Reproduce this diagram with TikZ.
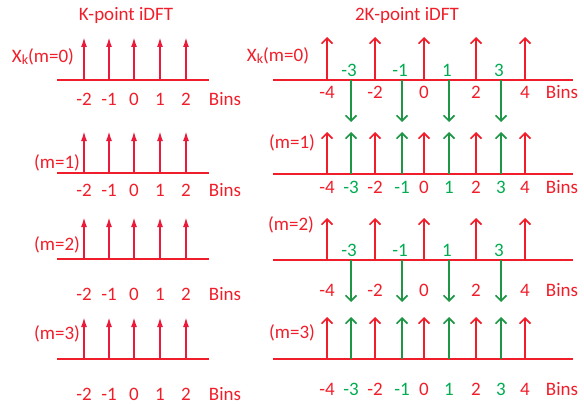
\documentclass[tikz,border=0pt]{standalone}
\usepackage{fontspec}
\setmainfont{Carlito}
\usetikzlibrary{arrows.meta}
\definecolor{binred}{RGB}{240,30,42}
\definecolor{stemred}{RGB}{234,26,58}
\definecolor{stemgreen}{RGB}{30,150,70}
\definecolor{bingreen}{RGB}{0,172,80}
% small lowered index letter
\newcommand{\binidx}[1]{\raisebox{-2pt}{\fontsize{14}{14}\selectfont #1}}

\begin{document}
\begin{tikzpicture}[x=1pt,y=-1pt,
  font=\fontsize{19}{22}\selectfont,
  axis/.style={binred, line width=1.8pt},
  lstem/.style={stemred, line width=1.8pt, -{Latex[length=10pt,width=6pt]}},
  rstem/.style={binred, line width=1.6pt, -{Straight Barb[length=5.5pt,width=11pt,line width=1.6pt]}},
  gstem/.style={stemgreen, line width=1.6pt, -{Straight Barb[length=5.5pt,width=11pt,line width=1.6pt]}},
  rlbl/.style={text=binred, inner sep=0pt, anchor=center},
  glbl/.style={text=bingreen, inner sep=0pt, anchor=center},
  title/.style={text=binred, inner sep=0pt}]
\useasboundingbox (0,0) rectangle (584,404);

% titles
\node[title] (ltitle) at (126,15) {K-point iDFT};
\node[title] (rtitle) at (407,15) {2K-point iDFT};

% ---------- K-point iDFT: four identical rows ----------
\foreach \r/\ay/\ty/\ly/\mx/\my/\mtxt in {
    0/80/37/99/43/57/{X\binidx{k}(m=0)},
    1/173/131/190/57/163/{(m=1)},
    2/259/217/294/57/245/{(m=2)},
    3/359/317/394/57/334/{(m=3)}}{
  \coordinate (la\r s) at (57,\ay);
  \coordinate (la\r e) at (209,\ay);
  \draw[axis] (la\r s) -- (la\r e);
  \node[rlbl] (lm\r) at (\mx,\my) {\mtxt};
  \foreach \x/\k [count=\i] in {84/-2,109/-1,134/0,160/1,186/2}{
    \coordinate (lb\r\i) at (\x,\ay);
    \coordinate (lt\r\i) at (\x,\ty);
    \draw[lstem] (lb\r\i) -- (lt\r\i);
    \node[rlbl] (ln\r\i) at (\x,\ly) {\k};
  }
  \node[rlbl] (lbins\r) at (225,\ly) {Bins};
}

% ---------- 2K-point iDFT ----------
% axes
\foreach \r/\ay in {0/80,1/174,2/260,3/359}{
  \coordinate (ra\r s) at (273,\ay);
  \coordinate (ra\r e) at (573,\ay);
  \draw[axis] (ra\r s) -- (ra\r e);
}

% row labels
\node[rlbl] (rm0) at (278,56) {X\binidx{k}(m=0)};
\node[rlbl] (rm1) at (292,143) {(m=1)};
\node[rlbl] (rm2) at (291,225) {(m=2)};
\node[rlbl] (rm3) at (292,333) {(m=3)};

% even bins (red)
\foreach \x/\k [count=\i] in {327/-4,375/-2,424/0,476/2,525/4}{
  % m=0
  \coordinate (rb0e\i) at (\x,80);  \coordinate (rt0e\i) at (\x,37);
  \draw[rstem] (rb0e\i) -- (rt0e\i);
  \node[rlbl] (rn0e\i) at (\x,92) {\k};
  % m=1
  \coordinate (rb1e\i) at (\x,174); \coordinate (rt1e\i) at (\x,132);
  \draw[rstem] (rb1e\i) -- (rt1e\i);
  \node[rlbl] (rn1e\i) at (\x,187) {\k};
  % m=2
  \coordinate (rb2e\i) at (\x,260); \coordinate (rt2e\i) at (\x,218);
  \draw[rstem] (rb2e\i) -- (rt2e\i);
  \node[rlbl] (rn2e\i) at (\x,290) {\k};
  % m=3
  \coordinate (rb3e\i) at (\x,359); \coordinate (rt3e\i) at (\x,317);
  \draw[rstem] (rb3e\i) -- (rt3e\i);
  \node[rlbl] (rn3e\i) at (\x,389) {\k};
}

% odd bins (green)
\foreach \x/\k [count=\i] in {351/-3,402/-1,449/1,501/3}{
  % m=0: pointing down
  \coordinate (rb0o\i) at (\x,80);  \coordinate (rt0o\i) at (\x,122);
  \draw[gstem] (rb0o\i) -- (rt0o\i);
  \node[glbl] (rn0o\i) at (\x-2,70) {\k};
  % m=1: pointing up
  \coordinate (rb1o\i) at (\x,174); \coordinate (rt1o\i) at (\x,132);
  \draw[gstem] (rb1o\i) -- (rt1o\i);
  \node[glbl] (rn1o\i) at (\x,187) {\k};
  % m=2: pointing down
  \coordinate (rb2o\i) at (\x,260); \coordinate (rt2o\i) at (\x,302);
  \draw[gstem] (rb2o\i) -- (rt2o\i);
  \node[glbl] (rn2o\i) at (\x-2,250) {\k};
  % m=3: pointing up
  \coordinate (rb3o\i) at (\x,359); \coordinate (rt3o\i) at (\x,317);
  \draw[gstem] (rb3o\i) -- (rt3o\i);
  \node[glbl] (rn3o\i) at (\x,389) {\k};
}

% bin axis captions
\node[rlbl] (rbins0) at (562,92) {Bins};
\node[rlbl] (rbins1) at (562,187) {Bins};
\node[rlbl] (rbins2) at (562,290) {Bins};
\node[rlbl] (rbins3) at (562,389) {Bins};
\end{tikzpicture}
\end{document}
